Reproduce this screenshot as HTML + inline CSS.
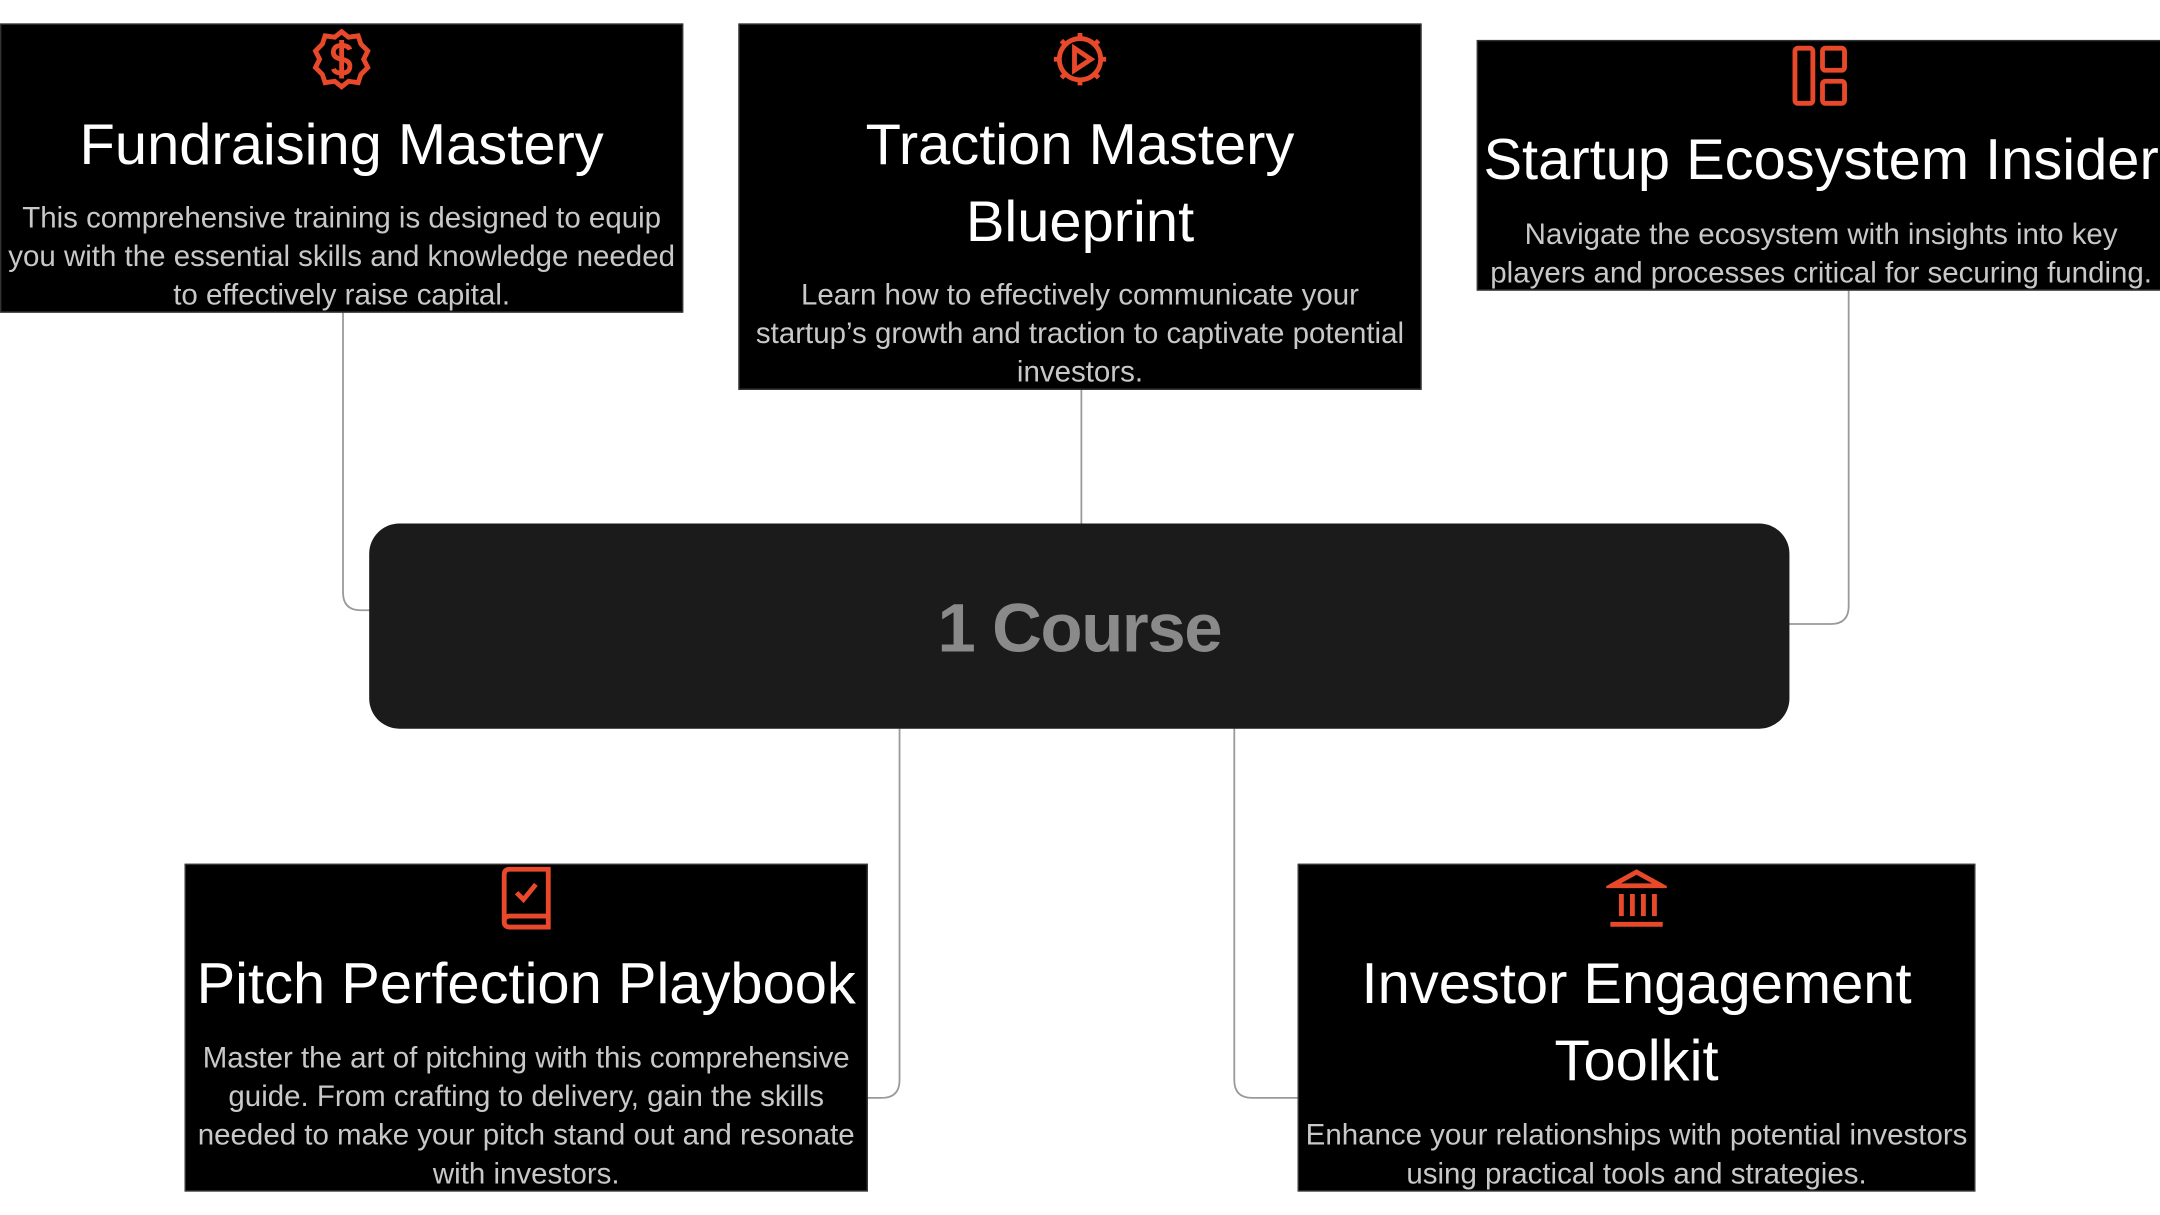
<!DOCTYPE html>
<html><head><meta charset="utf-8"><style>
html,body{margin:0;padding:0;background:#fff;width:2160px;height:1215px;overflow:hidden}
#w{position:absolute;left:0;top:0;width:1568px;height:882px;transform:scale(1.377551);transform-origin:0 0;font-family:"Liberation Sans",sans-serif}
.b{position:absolute;background:#000;border:1px solid #333;box-sizing:border-box}
.t{position:absolute;left:-20px;right:-20px;text-align:center;color:#fff;font-size:42px;line-height:56px;white-space:nowrap}
.d{position:absolute;left:-20px;right:-20px;text-align:center;color:#c8c8c8;font-size:21.4px;line-height:28px;white-space:nowrap}
.i{position:absolute;left:50%;transform:translateX(-50%)}
svg.l{position:absolute;left:0;top:0}
</style></head><body><div id="w">
<svg class="l" width="1568" height="882"><g fill="none" stroke="#9a9a9a" stroke-width="1.3">
<path d="M249 227 V430 Q249 443 262 443 H270"/>
<path d="M785 283 V381"/>
<path d="M1342 211 V440 Q1342 453 1329 453 H1298"/>
<path d="M653 529 V784 Q653 797 640 797 H629"/>
<path d="M896 529 V784 Q896 797 909 797 H942"/>
</g></svg>
<div style="position:absolute;left:268px;top:380px;width:1031px;height:149px;background:#1b1b1b;border-radius:22px;color:#8a8a8a;font-size:50px;font-weight:600;text-align:center;line-height:152px;letter-spacing:-1px">1 Course</div>

<div class="b" style="left:0;top:17px;width:496px;height:210px">
<svg class="i" style="top:2px" width="46" height="46" viewBox="0 0 46 46"><g fill="none" stroke="#e8492a" stroke-width="3.5"><path d="M23 3 L28 7 L35 6 L37 12 L42 17 L39 23 L42 29 L37 34 L35 40 L28 39 L23 43 L18 39 L11 40 L9 34 L4 29 L7 23 L4 17 L9 12 L11 6 L18 7 Z"/><path d="M29 16 Q28 13 23 13 Q17 13 17 18 Q17 22 23 23 Q29 24 29 28 Q29 33 23 33 Q18 33 17 30 M23 9 V37"/></g></svg>
<div class="t" style="top:59px">Fundraising Mastery</div>
<div class="d" style="top:126px">This comprehensive training is designed to equip<br>you with the essential skills and knowledge needed<br>to effectively raise capital.</div>
</div>

<div class="b" style="left:536px;top:17px;width:496px;height:266px">
<svg class="i" style="top:2px" width="46" height="46" viewBox="0 0 46 46"><g fill="none" stroke="#e8492a" stroke-width="3.5"><circle cx="23" cy="23" r="15"/><path d="M23 4 V8 M23 38 V42 M4 23 H8 M38 23 H42 M9.5 9.5 L12.5 12.5 M33.5 33.5 L36.5 36.5 M9.5 36.5 L12.5 33.5 M33.5 12.5 L36.5 9.5"/><path d="M19 15 L31 23 L19 31 Z"/></g></svg>
<div class="t" style="top:59px">Traction Mastery<br>Blueprint</div>
<div class="d" style="top:182px">Learn how to effectively communicate your<br>startup’s growth and traction to captivate potential<br>investors.</div>
</div>

<div class="b" style="left:1072px;top:29px;width:500px;height:182px">
<svg class="i" style="top:3px" width="44" height="44" viewBox="0 0 44 44"><g fill="none" stroke="#e8492a" stroke-width="3.5"><rect x="3" y="2" width="13" height="40" rx="2"/><rect x="23" y="2" width="16" height="16" rx="2"/><rect x="23" y="26" width="16" height="16" rx="2"/></g></svg>
<div class="t" style="top:58px">Startup Ecosystem Insider</div>
<div class="d" style="top:126px">Navigate the ecosystem with insights into key<br>players and processes critical for securing funding.</div>
</div>

<div class="b" style="left:134px;top:627px;width:496px;height:238px">
<svg class="i" style="top:1px" width="44" height="46" viewBox="0 0 44 46"><g fill="none" stroke="#e8492a" stroke-width="3.5"><path d="M6 6 Q6 2 10 2 H38 V36 H10 Q6 36 6 40 Q6 44 10 44 H38 V36 M6 40 V6"/><path d="M15 19 L20 24 L29 13"/></g></svg>
<div class="t" style="top:58px">Pitch Perfection Playbook</div>
<div class="d" style="top:126px">Master the art of pitching with this comprehensive<br>guide. From crafting to delivery, gain the skills<br>needed to make your pitch stand out and resonate<br>with investors.</div>
</div>

<div class="b" style="left:942px;top:627px;width:492px;height:238px">
<svg class="i" style="top:1px" width="44" height="46" viewBox="0 0 44 46"><g fill="none" stroke="#e8492a" stroke-width="3.5"><path d="M4 14 L22 4 L40 14 Z M11 20 V36 M19 20 V36 M27 20 V36 M35 20 V36 M3 42 H41"/></g></svg>
<div class="t" style="top:58px">Investor Engagement<br>Toolkit</div>
<div class="d" style="top:182px">Enhance your relationships with potential investors<br>using practical tools and strategies.</div>
</div>
</div></body></html>
